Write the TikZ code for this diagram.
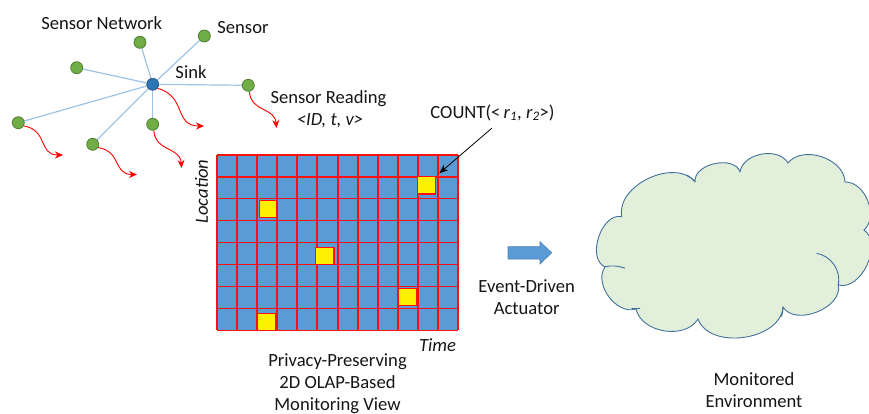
\documentclass[tikz,border=0pt]{standalone}
\usepackage{fontspec}
\setmainfont{Carlito}
\usetikzlibrary{arrows.meta,backgrounds}
\definecolor{cellblue}{HTML}{5B9BD5}
\definecolor{gridred}{HTML}{FF1010}
\definecolor{sensgreen}{HTML}{70AD47}
\definecolor{sensborder}{HTML}{507E32}
\definecolor{sinkblue}{HTML}{2E75B6}
\definecolor{sinkborder}{HTML}{1F4E79}
\definecolor{linkblue}{HTML}{9DC3E6}
\definecolor{cloudfill}{HTML}{E2EFDA}
\definecolor{cloudline}{HTML}{41719C}
\definecolor{arrowblue}{HTML}{5B9BD5}
\definecolor{arrowborder}{HTML}{4A84B8}
\definecolor{txt}{HTML}{151515}
\tikzset{
  sensor/.style={circle, fill=sensgreen, draw=sensborder, line width=0.8pt, minimum size=12pt, inner sep=0pt},
  sinknode/.style={circle, fill=sinkblue, draw=sinkborder, line width=0.6pt, minimum size=12pt, inner sep=0pt},
  link/.style={draw=linkblue, line width=1.2pt},
  readarrow/.style={draw=red, line width=0.9pt, -{Stealth[length=8pt,width=7pt]}},
  lbl/.style={text=txt, inner sep=0pt, align=center},
  gridline/.style={draw=gridred, line width=1.3pt},
  vgridline/.style={draw=gridred, line width=2pt},
  yellowsq/.style={fill=yellow, draw=gridred, line width=1.2pt},
  cloudedge/.style={draw=cloudline, line width=0.9pt}
}
\begin{document}
\begin{tikzpicture}[x=1pt, y=1pt, font=\fontsize{18.6}{22}\selectfont]
\useasboundingbox (0,0) rectangle (869,-414);

% ---------- sensor network ----------
\node[sinknode] (sink) at (152.7,-84.3) {};
\node[sensor] (s1) at (204.3,-36) {};
\node[sensor] (s2) at (140,-42.3) {};
\node[sensor] (s3) at (76.7,-67.7) {};
\node[sensor] (s4) at (248.3,-85.3) {};
\node[sensor] (s5) at (18.3,-122.7) {};
\node[sensor] (s6) at (92.7,-144.3) {};
\node[sensor] (s7) at (152.7,-124.3) {};
\begin{scope}[on background layer]
\foreach \s in {s1,s2,s3,s4,s5,s6,s7} \draw[link] (sink) -- (\s);
\end{scope}

% red reading arrows
\coordinate (e0) at (204,-126);
\coordinate (e4) at (276.5,-128);
\coordinate (e5) at (63,-155);
\coordinate (e6) at (137,-174.5);
\coordinate (e7) at (181.7,-168);
\draw[readarrow] (sink.-40) to[out=-15,in=180,looseness=1.3] (e0);
\draw[readarrow] (s4.-80) to[out=-85,in=95,looseness=1.2] (e4);
\draw[readarrow] (s5.-30) to[out=-10,in=180,looseness=1.3] (e5);
\draw[readarrow] (s6.-30) to[out=-10,in=180,looseness=1.3] (e6);
\draw[readarrow] (s7.-80) to[out=-85,in=95,looseness=1.2] (e7);

\node[lbl] (tnet) at (101.7,-23.5) {Sensor Network};
\node[lbl] (tsensor) at (243,-27.5) {Sensor};
\node[lbl] (tsink) at (191,-72.5) {Sink};
\node[lbl] (tread) at (328.5,-98.5) {Sensor Reading};
\node[lbl] (ttuple) at (330,-120.5) {\textit{<ID, t, v>}};

% ---------- OLAP grid ----------
\fill[cellblue] (217.3,-155) rectangle (457.7,-330.3);
\foreach \i in {0,...,12} \draw[vgridline] ({217.3+\i*20.033},-155) -- ({217.3+\i*20.033},-330.3);
\foreach \j in {0,...,8} \draw[gridline] (217.3,{-155-\j*21.91}) -- (457.7,{-155-\j*21.91});
\draw[yellowsq] (417.5,-176.8) rectangle (435.7,-194);
\draw[yellowsq] (259.3,-200.8) rectangle (277,-217.3);
\draw[yellowsq] (315.8,-247.3) rectangle (334,-264.3);
\draw[yellowsq] (398.4,-288.3) rectangle (416.7,-305.7);
\draw[yellowsq] (257.8,-313.3) rectangle (275.8,-330.3);
\coordinate (cell) at (439.3,-173.3);

\node[lbl, rotate=90, font=\fontsize{18.6}{22}\selectfont\itshape] (tloc) at (201.5,-191.5) {Location};
\node[lbl, font=\fontsize{18.6}{22}\selectfont\itshape] (ttime) at (437.5,-345) {Time};
\node[lbl] (tview) at (337.5,-384) {Privacy-Preserving\\2D OLAP-Based\\Monitoring View};

\node[lbl] (tcount) at (492.5,-112.5) {COUNT(<\,\textit{r}\textsubscript{\textit{1}}, \textit{r}\textsubscript{\textit{2}}>)};
\draw[black, line width=0.8pt, -{Stealth[length=9pt,width=7pt]}] (491.7,-128.3) -- (cell);

% ---------- actuator arrow ----------
\draw[fill=arrowblue, draw=arrowborder, line width=0.6pt]
  (508,-246.7) -- (540,-246.7) -- (540,-241.7) -- (551.7,-252.8) -- (540,-264) -- (540,-259) -- (508,-259) -- cycle;
\node[lbl] (tact) at (526.7,-297.5) {Event-Driven\\Actuator};

% ---------- cloud ----------
\draw[cloudedge, fill=cloudfill]
  (621.7,-216.7) to[bend left=75] (695,-181.7)
  to[bend left=82] (740,-171.7)
  to[bend left=70] (788,-163)
  to[bend left=70] (845,-182)
  to[bend left=70] (864,-230)
  to[bend left=80] (838.3,-285)
  to[bend left=80] (783,-307)
  to[bend left=78] (698,-319)
  to[bend left=68] (636,-309)
  to[bend left=72] (605,-267)
  to[bend left=84] (621.7,-216.7) -- cycle;
\draw[cloudedge] (816.7,-253.3) to[bend left=45] (838.3,-285);
\draw[cloudedge] (605,-266.7) to[bend left=15] (625,-268.3);
\draw[cloudedge] (686.7,-175) to[bend left=10] (695,-181.7);
\draw[cloudedge] (783,-307) to[bend left=10] (781.5,-316.7);
\draw[cloudedge] (631.7,-308.3) to[bend right=10] (640,-308.3);

\node[lbl] (tenv) at (754,-390) {Monitored\\Environment};
\end{tikzpicture}
\end{document}
